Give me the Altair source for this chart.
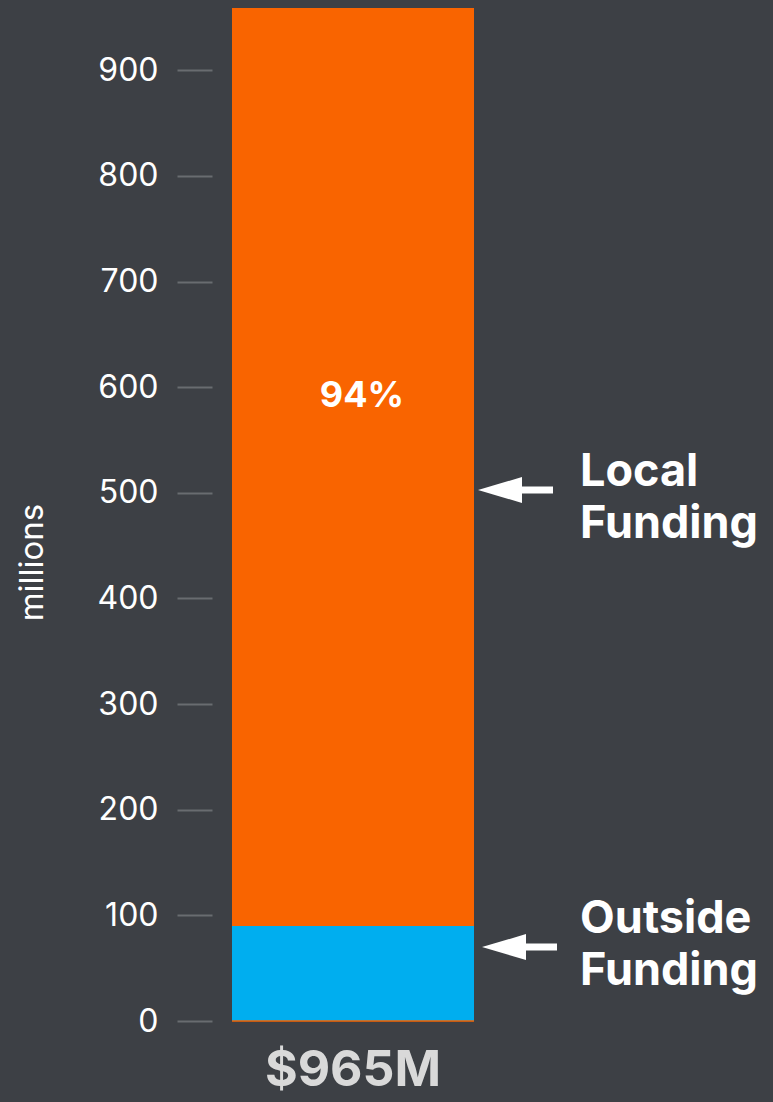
import altair as alt
import pandas as pd

# ---- data ----
categories = ["Outside Funding", "Local Funding"]
values = [90, 869]
stack_order = [0, 1]
colors = ["#00aeef", "#f96400"]
total_label = "$965M"
share_label = "94%"
share_label_y = [592]
y_ticks = [0, 100, 200, 300, 400, 500, 600, 700, 800, 900]
arrow_y = [502.7, 70]
note_labels = ["Local\nFunding", "Outside\nFunding"]
note_y = [519.7, 96.6]

FONT = "Inter"
BG = "#3d4045"

# page background (dark, like the reference), applied through the html template
try:
    import altair.utils.html as _h
    _orig_tpl = _h.TEMPLATES["standard"]

    class _DarkTpl:
        def render(self, *a, **k):
            return _orig_tpl.render(*a, **k).replace(
                "<head>", "<head><style>html,body{background:%s;}</style>" % BG, 1
            )

    _h.TEMPLATES["standard"] = _DarkTpl()
    try:
        alt.Chart(pd.DataFrame({"a": [1]})).mark_point().encode(x="a:Q").to_html()
    except Exception:
        _h.TEMPLATES["standard"] = _orig_tpl
except Exception:
    pass

bar_df = pd.DataFrame({
    "category": categories,
    "value": values,
    "order": stack_order,
    "total": [total_label] * len(categories),
})

y_scale = alt.Scale(domain=[0, 959], nice=False)

bars = alt.Chart(bar_df).mark_bar().encode(
    x=alt.X(
        "total:N",
        scale=alt.Scale(range=[0, 242], paddingInner=0, paddingOuter=0),
        axis=alt.Axis(
            title=None, labelFontSize=50, labelFontWeight="bold",
            labelColor="#d9d9d9", labelFont=FONT, ticks=False, domain=False,
            labelPadding=24, labelAngle=0,
        ),
    ),
    y=alt.Y(
        "value:Q", stack="zero", scale=y_scale,
        axis=alt.Axis(
            values=y_ticks, title="millions", titleColor="#ffffff",
            titleFontSize=33, titleFontWeight="normal", titleFont=FONT,
            titleY=554, titleX=-180, titleAngle=270, titleBaseline="middle",
            titleAlign="center",
            labelFont=FONT, labelFontSize=32,
            labelColor="#ffffff", labelPadding=19, tickSize=35,
            tickWidth=2, tickColor="#696c70", domain=False, grid=False,
            offset=20,
        ),
    ),
    color=alt.Color("category:N", scale=alt.Scale(domain=categories, range=colors), legend=None),
    order=alt.Order("order:Q"),
)

base_line = alt.Chart(pd.DataFrame({"v": [0]})).mark_rule(
    color="#f96400", strokeWidth=1.5
).encode(y=alt.Y("v:Q", scale=y_scale), x=alt.value(0), x2=alt.value(242))

share = alt.Chart(pd.DataFrame({"y": share_label_y, "t": [share_label]})).mark_text(
    font=FONT, fontSize=36, fontWeight="bold", color="#ffffff",
    align="center", baseline="middle",
).encode(x=alt.value(130), y=alt.Y("y:Q", scale=y_scale), text="t:N")

layers = [bars, base_line, share]

arrow_tips = [246, 250]
arrow_tails = [321, 325]
for ay, tip, tail in zip(arrow_y, arrow_tips, arrow_tails):
    adf = pd.DataFrame({"y": [ay]})
    shaft = alt.Chart(adf).mark_rule(color="#ffffff", strokeWidth=7).encode(
        y=alt.Y("y:Q", scale=y_scale), x=alt.value(tip + 38), x2=alt.value(tail)
    )
    head = alt.Chart(adf).mark_point(
        shape="M -1 0 L 1 -0.59 L 1 0.59 Z", filled=True, color="#ffffff",
        opacity=1, size=44 * 44, strokeWidth=0,
    ).encode(y=alt.Y("y:Q", scale=y_scale), x=alt.value(tip + 22))
    layers += [shaft, head]

notes = alt.Chart(pd.DataFrame({"y": note_y, "t": note_labels})).mark_text(
    font=FONT, fontSize=45, fontWeight="bold", color="#ffffff",
    align="left", baseline="middle", lineBreak="\n", lineHeight=52,
).encode(x=alt.value(348), y=alt.Y("y:Q", scale=y_scale), text="t:N")
layers.append(notes)

chart = alt.layer(*layers).properties(
    width=533, height=1013,
    padding={"left": 224, "top": 0, "right": 0, "bottom": 80},
    autosize=alt.AutoSizeParams(type="none"),
    background=BG,
).configure_view(stroke=None)

chart.save("out.html", embed_options={"renderer": "svg", "actions": False})
